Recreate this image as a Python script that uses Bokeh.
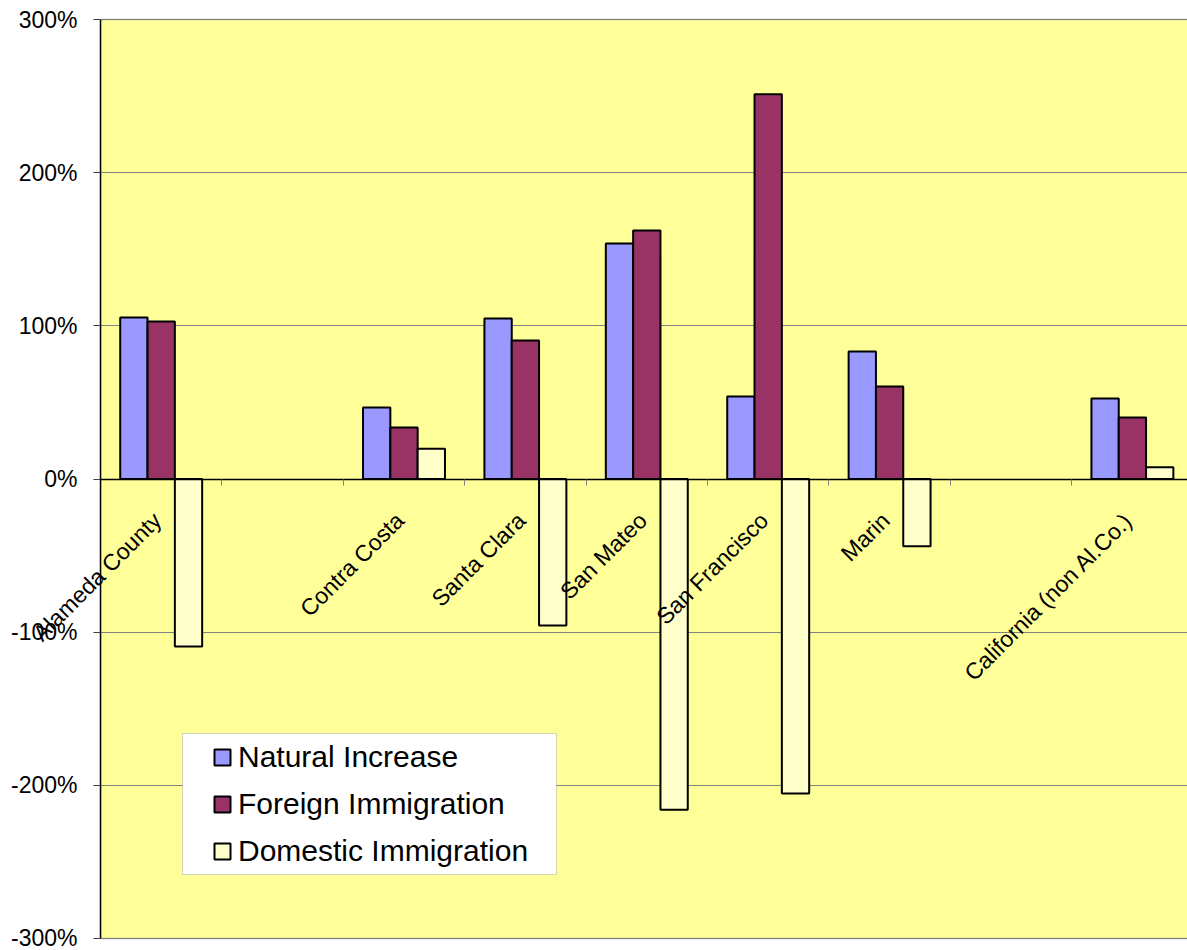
import math

from bokeh.embed import file_html
from bokeh.models import (BoxAnnotation, ColumnDataSource, FixedTicker, Label,
                          Legend, LegendItem, NumeralTickFormatter, Range1d)
from bokeh.plotting import figure
from bokeh.resources import INLINE

# ---- data: share of population change by component (1.0 == 100%) ----
categories = ["Alameda County", "", "Contra Costa", "Santa Clara", "San Mateo",
              "San Francisco", "Marin", "", "California (non Al.Co.)"]
natural_increase = [1.055, None, 0.467, 1.048, 1.538, 0.539, 0.833, None, 0.526]
foreign_immigration = [1.029, None, 0.336, 0.905, 1.623, 2.512, 0.604, None, 0.402]
domestic_immigration = [-1.094, None, 0.197, -0.957, -2.159, -2.054, -0.439, None, 0.077]
series_names = ["Natural Increase", "Foreign Immigration", "Domestic Immigration"]
series_colors = ["#9999FF", "#993366", "#FFFFCC"]
y_ticks = [-3, -2, -1, 0, 1, 2, 3]

# ---- layout (pixels) ----
WIDTH, HEIGHT = 1187, 950
LEFT, TOP, BOTTOM = 100, 19, 12     # plot area inset from the canvas edges
CAT_PX = 121.4                      # width of one category slot
BAR_W = 0.225                       # bar width in category units
FONT = "Liberation Sans"

px_per_y = (HEIGHT - TOP - BOTTOM) / (y_ticks[-1] - y_ticks[0])
x_start = -LEFT / CAT_PX
x_end = (WIDTH - LEFT) / CAT_PX
y_top = y_ticks[-1] + TOP / px_per_y
y_bottom = y_ticks[0] - BOTTOM / px_per_y


def y_at(py):
    """Data y for a canvas pixel row."""
    return y_top - py / px_per_y


def x_at(px):
    """Data x for a canvas pixel column."""
    return (px - LEFT) / CAT_PX


# the frame covers the whole canvas so that axis labels and long category
# labels can sit outside the yellow plot area; both axes are pinned inside it
p = figure(width=WIDTH, height=HEIGHT,
           x_range=Range1d(x_start, x_end),
           y_range=Range1d(y_bottom, y_top),
           output_backend="svg", toolbar_location=None,
           min_border=0,
           background_fill_color="white", border_fill_color="white",
           outline_line_color=None)

# yellow plot area with grey border
p.add_layout(BoxAnnotation(left=0, right=x_end + 1, bottom=y_ticks[0], top=y_ticks[-1],
                           fill_color="#FFFF99", fill_alpha=1.0,
                           line_color="#808080", line_width=2, level="image"))

# horizontal grid
p.xgrid.visible = False
p.ygrid.ticker = FixedTicker(ticks=y_ticks)
p.ygrid.grid_line_color = "#808080"
p.ygrid.grid_line_width = 1

# keep the grid out of the margin left of the value axis
p.add_layout(BoxAnnotation(left=x_start - 1, right=0,
                           bottom=y_bottom - 1, top=y_top + 1,
                           fill_color="white", fill_alpha=1.0, line_color=None,
                           level="underlay"))

# value axis
yax = p.yaxis[0]
yax.fixed_location = 0
yax.bounds = (y_ticks[0], y_ticks[-1])
yax.ticker = FixedTicker(ticks=y_ticks)
yax.formatter = NumeralTickFormatter(format="0%")
yax.major_label_text_font = FONT
yax.major_label_text_font_size = "23px"
yax.major_label_text_color = "black"
yax.major_label_standoff = 16
yax.major_tick_out = 7
yax.major_tick_in = 0
yax.major_tick_line_color = "#404040"
yax.minor_tick_line_color = None
yax.axis_line_color = "black"
yax.axis_line_width = 1.5

# category axis sitting on the zero line, ticks between categories
xax = p.xaxis[0]
xax.fixed_location = 0
xax.bounds = (0, x_end + 1)
xax.ticker = FixedTicker(ticks=list(range(1, len(categories))))
xax.major_label_text_color = None
xax.major_label_text_font_size = "1px"
xax.major_label_standoff = 0
xax.major_tick_out = 6
xax.major_tick_in = 0
xax.major_tick_line_color = "#808080"
xax.minor_tick_line_color = None
xax.axis_line_color = "black"
xax.axis_line_width = 1.5

# clustered bars
series_values = [natural_increase, foreign_immigration, domestic_immigration]
renderers = []
for j, (vals, color) in enumerate(zip(series_values, series_colors)):
    offset = (j - 1) * BAR_W
    xs = [i + 0.5 + offset for i, v in enumerate(vals) if v is not None]
    tops = [v for v in vals if v is not None]
    src = ColumnDataSource(dict(x=xs, top=tops))
    r = p.vbar(x="x", top="top", bottom=0, width=BAR_W, source=src,
               fill_color=color, line_color="black", line_width=2)
    renderers.append(r)

# rotated category labels just under the zero line
for i, name in enumerate(categories):
    if not name:
        continue
    p.add_layout(Label(x=i + 0.5 - 4 / CAT_PX, y=y_at(516), text=name,
                       angle=math.pi / 4, text_align="right", text_baseline="middle",
                       text_font=FONT, text_font_size="23px", text_color="black"))

# legend box
p.add_layout(BoxAnnotation(left=x_at(182), right=x_at(556), top=y_at(733), bottom=y_at(874),
                           fill_color="white", fill_alpha=1.0,
                           line_color="#707070", line_width=1))

legend = Legend(items=[LegendItem(label=n, renderers=[r]) for n, r in zip(series_names, renderers)],
                location=(LEFT + 112, HEIGHT - 868), padding=0, spacing=13,
                glyph_width=20, glyph_height=20, label_standoff=6,
                label_height=34,
                label_text_font=FONT, label_text_font_size="30px",
                label_text_color="black",
                background_fill_alpha=0, border_line_color=None)
p.add_layout(legend)

open("out.html", "w").write(file_html(p, INLINE))
